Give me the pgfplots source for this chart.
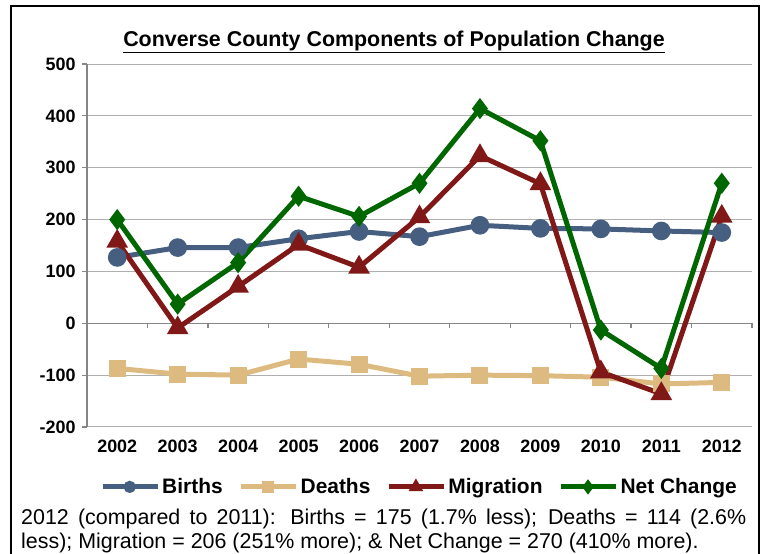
\documentclass[border=0pt]{standalone}
\usepackage{fontspec}
\setmainfont{Liberation Sans}
\usepackage{pgfplots}
\pgfplotsset{compat=1.18}
\definecolor{births}{RGB}{70,94,128}
\definecolor{deaths}{RGB}{221,187,128}
\definecolor{migr}{RGB}{128,24,24}
\definecolor{netc}{RGB}{0,102,0}
\definecolor{gridc}{RGB}{175,175,175}
\definecolor{axc}{RGB}{134,134,134}
\begin{document}
\begin{tikzpicture}
\useasboundingbox (0bp,0bp) rectangle (764bp,554bp);
\draw[line width=2.5bp] (11bp,-10bp) -- (11bp,548bp) -- (759bp,548bp) -- (759bp,-10bp);
\node[font=\bfseries\fontsize{21.5}{25}\selectfont] at (394bp,512bp) {\underline{Converse County Components of Population Change}};
\begin{axis}[at={(87bp,127bp)}, anchor=south west, scale only axis,
  width=665bp, height=363bp,
  xmin=-0.5, xmax=10.5, ymin=-200, ymax=500,
  ytick={-200,-100,...,500},
  xtick={0,...,10}, xticklabels={2002,2003,2004,2005,2006,2007,2008,2009,2010,2011,2012},
  axis lines*=left,
  x axis line style={draw=none},
  y axis line style={axc, line width=1.5bp},
  xtick style={draw=none},
  ytick style={axc, line width=1.2bp},
  tick align=outside, major tick length=5bp,
  ymajorgrids, grid style={gridc, line width=1bp},
  /pgf/number format/assume math mode=true,
  ticklabel style={font=\bfseries\fontsize{18}{20}\selectfont},
  xticklabel style={yshift=-4bp},
  yticklabel style={xshift=-3bp},
  clip=false,
  legend columns=4,
  legend style={at={(0.5,-0.165)}, anchor=center, draw=none, fill=none,
    font=\bfseries\fontsize{21}{24}\selectfont,
    /tikz/every even column/.append style={column sep=14bp}},
  legend cell align=left,
  legend image code/.code={\draw[#1, mark size=3.5bp, mark repeat=2, mark phase=2] plot coordinates {(0bp,0bp) (27bp,0bp) (55bp,0bp)};},
]
\draw[axc, line width=1.5bp] (axis cs:-0.5,0) -- (axis cs:10.5,0);
\pgfplotsinvokeforeach{0.5,1.5,2.5,3.5,4.5,5.5,6.5,7.5,8.5,9.5,10.5}{\draw[axc, line width=1.2bp] (axis cs:#1,0) -- ([yshift=-5bp]axis cs:#1,0);}
\addplot[births, line width=5bp, mark=*, mark size=6.8bp] coordinates {
 (0,127) (1,146) (2,146) (3,163) (4,177) (5,167) (6,189) (7,183) (8,182) (9,178) (10,175)};
\addlegendentry{Births}
\addplot[deaths, line width=5bp, mark=square*, mark size=6bp] coordinates {
 (0,-87) (1,-98) (2,-100) (3,-69) (4,-79) (5,-102) (6,-100) (7,-101) (8,-104) (9,-117) (10,-114)};
\addlegendentry{Deaths}
\addplot[migr, line width=5bp, mark=triangle*, mark size=7.5bp] coordinates {
 (0,158) (1,-9) (2,71) (3,152) (4,108) (5,205) (6,323) (7,269) (8,-94) (9,-136) (10,206)};
\addlegendentry{Migration}
\addplot[netc, line width=5bp, mark=diamond*, mark size=6.5bp] coordinates {
 (0,200) (1,37) (2,117) (3,245) (4,206) (5,270) (6,414) (7,352) (8,-13) (9,-87) (10,270)};
\addlegendentry{Net Change}
\end{axis}
\node[anchor=north west, text width=725bp, align=justify, inner sep=0pt,
  font=\fontsize{21.5}{24}\selectfont] at (21bp,45bp) {2012 (compared to 2011): Births = 175 (1.7\% less); Deaths = 114 (2.6\%\linebreak less); Migration = 206 (251\% more); \& Net Change = 270 (410\% more).};
\end{tikzpicture}
\end{document}
